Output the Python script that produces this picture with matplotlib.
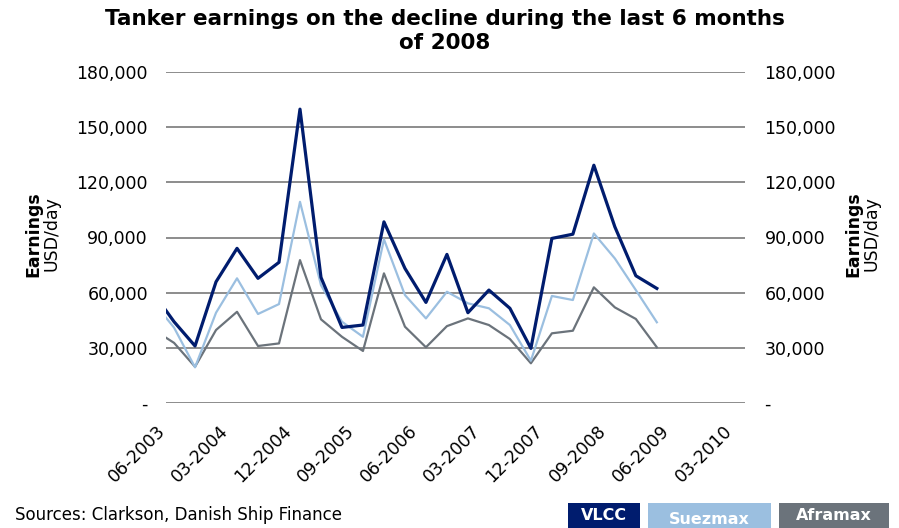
import numpy as np
import pandas as pd
import matplotlib
matplotlib.use('Agg')
import matplotlib.pyplot as plt
from matplotlib.patches import Rectangle
from matplotlib.ticker import FuncFormatter
from matplotlib.transforms import ScaledTranslation

# quarterly observations (first one sits left of the axis and is clipped)
dates = ['2003-04', '2003-07', '2003-10', '2004-01', '2004-04', '2004-07', '2004-10',
         '2005-01', '2005-04', '2005-07', '2005-10', '2006-01', '2006-04', '2006-07',
         '2006-10', '2007-01', '2007-04', '2007-07', '2007-10', '2008-01', '2008-04',
         '2008-07', '2008-10', '2009-01', '2009-04']
vlcc = [60000, 44200, 31000, 65900, 84100, 67800, 76500, 159800, 68300, 41100, 42400,
        98500, 73200, 54700, 80800, 49100, 61400, 51500, 29700, 89500, 91800, 129300,
        95800, 69200, 62300]
suezmax = [55000, 41000, 19400, 49100, 67800, 48400, 53800, 109400, 64100, 44200, 36000,
           89000, 58700, 46000, 60500, 54200, 51500, 42400, 23000, 58200, 56000, 92200,
           78600, 61400, 43900]
aframax = [40000, 32700, 19700, 39700, 49600, 31000, 32400, 77700, 45500, 36000, 28300,
           70500, 41500, 30300, 41800, 46000, 42400, 34800, 21600, 37900, 39300, 62900,
           52000, 45700, 30300]
tick_labels = ['06-2003', '03-2004', '12-2004', '09-2005', '06-2006', '03-2007',
               '12-2007', '09-2008', '06-2009', '03-2010']

def month_index(s):
    d = pd.to_datetime(s)
    return (d.year - 2003) * 12 + d.month - 6

x = np.array([month_index(d) for d in dates])
xt = [month_index(pd.to_datetime(t, format='%m-%Y')) for t in tick_labels]

c_vlcc = '#001c6e'
c_suez = '#9bbfe0'
c_afra = '#6b737b'

plt.rcParams['font.family'] = 'DejaVu Sans'

fig = plt.figure(figsize=(8.99, 5.28), dpi=100)
ax = fig.add_axes([166 / 899, 1 - 403 / 528, 579 / 899, 331 / 528])

yt = np.arange(0, 180001, 30000)
for v in yt:
    ax.axhline(v, color='#6e6e6e', lw=1.1, zorder=1)

ax.plot(x, aframax, color=c_afra, lw=1.6, zorder=3)
ax.plot(x, suezmax, color=c_suez, lw=1.6, zorder=4)
ax.plot(x, vlcc, color=c_vlcc, lw=2.3, zorder=5)

ax.set_xlim(-0.15, 82.6)
ax.set_ylim(0, 180000)
for s in ax.spines.values():
    s.set_visible(False)

fmt = FuncFormatter(lambda v, p: '-' if v == 0 else f'{int(v):,}')
ax.set_yticks(yt)
ax.yaxis.set_major_formatter(fmt)
ax.tick_params(axis='y', length=0, pad=13, labelsize=12.5)
ax.set_xticks(xt)
ax.set_xticklabels(tick_labels, rotation=45, ha='right', rotation_mode='anchor')
ax.tick_params(axis='x', length=0, pad=8, labelsize=12.5)
shift = ScaledTranslation(-11 / 100, -8 / 100, fig.dpi_scale_trans)
for lab in ax.get_xticklabels():
    lab.set_transform(lab.get_transform() + shift)

ax2 = ax.twinx()
ax2.set_ylim(0, 180000)
ax2.set_yticks(yt)
ax2.yaxis.set_major_formatter(fmt)
ax2.tick_params(axis='y', length=0, pad=14, labelsize=12.5)
for s in ax2.spines.values():
    s.set_visible(False)

# axis titles on both sides
for xe, xu in [(33, 51), (853, 872)]:
    fig.text(xe / 899, 1 - 234 / 528, 'Earnings', rotation=90, ha='center', va='center',
             fontsize=12.5, fontweight='bold')
    fig.text(xu / 899, 1 - 234 / 528, 'USD/day', rotation=90, ha='center', va='center',
             fontsize=12.5)

fig.text(445 / 899, 1 - 31 / 528, 'Tanker earnings on the decline during the last 6 months\nof 2008',
         ha='center', va='center', fontsize=15.5, fontweight='bold', linespacing=1.3)

fig.text(15 / 899, 1 - 515 / 528, 'Sources: Clarkson, Danish Ship Finance', ha='left',
         va='center', fontsize=12)

# legend boxes
boxes = [('VLCC', c_vlcc, 568, 640, 516), ('Suezmax', c_suez, 648, 771, 519),
         ('Aframax', c_afra, 779, 889, 516)]
for name, col, x0, x1, ty in boxes:
    fig.add_artist(Rectangle((x0 / 899, 0), (x1 - x0) / 899, 25 / 528,
                             transform=fig.transFigure, color=col, lw=0))
    fig.text((x0 + x1) / 2 / 899, 1 - ty / 528, name, ha='center', va='center',
             color='white', fontsize=11.5, fontweight='bold')

plt.savefig('out.png', dpi=100)
